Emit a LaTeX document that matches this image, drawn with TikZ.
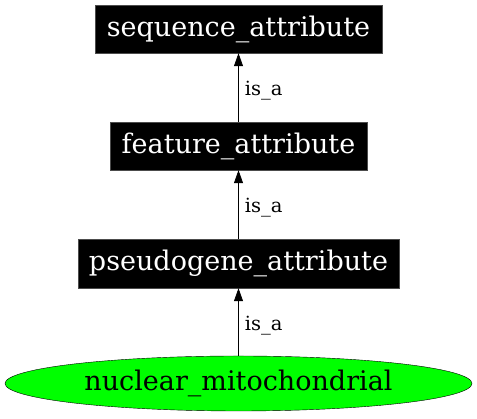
\documentclass[tikz,border=0pt]{standalone}
\usepackage{fontspec}
\setmainfont{DejaVu Serif}
\usetikzlibrary{shapes.geometric,arrows.meta}
\begin{document}
\begin{tikzpicture}[x=1pt,y=1pt,
  termbox/.style={draw=black!70,fill=black,text=white,inner sep=0pt,minimum height=48pt,font=\fontsize{27}{32}\selectfont},
  termell/.style={ellipse,draw=black,fill=green,inner sep=0pt,font=\fontsize{27}{32}\selectfont},
  isa/.style={-{Triangle[length=13pt,width=9pt]},draw=black,line width=0.8pt},
  lbl/.style={font=\fontsize{19.5}{22}\selectfont,anchor=west,inner sep=0pt}]
\useasboundingbox (0,0) rectangle (477,419);
\node[termbox,minimum width=287pt] (seq) at (238.5,390) {sequence\_attribute};
\node[termbox,minimum width=257pt] (feat) at (238.5,273) {feature\_attribute};
\node[termbox,minimum width=321pt,minimum height=49pt] (pseudo) at (238.5,155.5) {pseudogene\_attribute};
\node[termell,minimum width=467pt,minimum height=55pt] (nm) at (238.5,35.5) {nuclear\_mitochondrial};
\draw[isa] (feat) -- node[lbl,pos=0.45,xshift=6pt] (l1) {is\_a} (seq);
\draw[isa] (pseudo) -- node[lbl,pos=0.45,xshift=6pt] (l2) {is\_a} (feat);
\draw[isa] (nm) -- node[lbl,pos=0.45,xshift=6pt] (l3) {is\_a} (pseudo);
\end{tikzpicture}
\end{document}
